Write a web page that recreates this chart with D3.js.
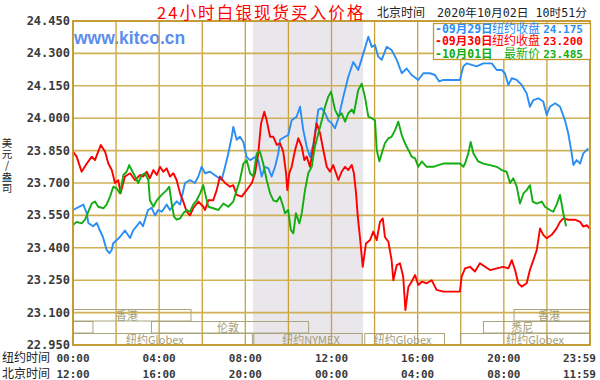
<!DOCTYPE html>
<html><head><meta charset="utf-8">
<script src="https://cdn.jsdelivr.net/npm/d3@7"></script>
<style>
html,body{margin:0;padding:0;background:#fff;}
svg{display:block;}
</style></head>
<body>
<svg id="chart" width="600" height="380"></svg>
<script>
// ---------------- data ----------------
const titleText = "24小时白银现货买入价格";
const stampLabel = "北京时间";
const stampText = "2020年10月02日 10时51分";
const yTitleText = "美元/盎司";
const yTicks = [22.95, 23.10, 23.25, 23.40, 23.55, 23.70, 23.85, 24.00, 24.15, 24.30, 24.45];
const nyTimeLabels = ["00:00","04:00","08:00","12:00","16:00","20:00","23:59"];
const bjTimeLabels = ["12:00","16:00","20:00","00:00","04:00","08:00","11:59"];
const timeHours = [0, 4, 8, 12, 16, 20, 24];
const nymexShade = [8.36, 13.46];

const legendDates = ["-09月29日", "-09月30日", "-10月01日"];
const legendNames = ["纽约收盘", "纽约收盘", "最新价"];
const legendValues = ["24.175", "23.200", "23.485"];

// [hour (NY time), price]
const sep29 = [[0,23.575],[0.48,23.60],[0.64,23.56],[0.71,23.515],[0.93,23.50],[1.10,23.515],[1.25,23.48],[1.39,23.45],[1.56,23.39],[1.69,23.375],[1.80,23.39],[1.86,23.42],[2.18,23.45],[2.41,23.48],[2.65,23.445],[2.79,23.48],[3.11,23.52],[3.25,23.50],[3.48,23.575],[3.65,23.585],[3.81,23.55],[3.95,23.575],[4.12,23.567],[4.35,23.60],[4.50,23.575],[4.81,23.615],[4.97,23.60],[5.20,23.70],[5.43,23.713],[5.66,23.70],[5.82,23.73],[5.97,23.775],[6.13,23.745],[6.36,23.752],[6.67,23.73],[6.90,23.714],[7.06,23.775],[7.21,23.837],[7.37,23.914],[7.44,23.96],[7.60,23.90],[7.75,23.914],[7.91,23.89],[8.06,23.82],[8.22,23.806],[8.45,23.82],[8.60,23.806],[8.76,23.73],[8.91,23.775],[9.07,23.768],[9.22,23.73],[9.38,23.775],[9.53,23.837],[9.61,23.90],[9.84,23.914],[9.99,23.922],[10.15,23.99],[10.38,24.007],[10.54,24.053],[10.69,23.945],[10.85,23.868],[11.00,23.82],[11.16,23.88],[11.39,24.04],[11.55,24.046],[11.70,24.023],[11.85,23.99],[12.01,23.976],[12.16,23.953],[12.32,24.0],[12.55,24.10],[12.78,24.192],[13.01,24.26],[13.24,24.223],[13.48,24.30],[13.71,24.377],[13.87,24.33],[14.02,24.339],[14.17,24.285],[14.33,24.27],[14.56,24.33],[14.79,24.316],[15.03,24.27],[15.26,24.208],[15.49,24.23],[15.72,24.20],[16.03,24.177],[16.26,24.208],[16.57,24.208],[16.80,24.20],[17.00,24.17],[17.19,24.177],[17.96,24.177],[18.12,24.24],[18.28,24.254],[18.74,24.24],[19.05,24.254],[19.44,24.254],[19.67,24.223],[19.90,24.223],[20.05,24.208],[20.21,24.154],[20.37,24.185],[20.60,24.177],[20.83,24.154],[21.06,24.115],[21.21,24.053],[21.37,24.084],[21.60,24.092],[21.83,24.077],[21.99,24.015],[22.14,24.053],[22.38,24.069],[22.61,24.053],[22.84,23.99],[22.99,23.93],[23.15,23.837],[23.23,23.783],[23.38,23.806],[23.54,23.79],[23.69,23.837],[23.92,23.86]];

const sep30 = [[0,23.845],[0.17,23.822],[0.40,23.752],[0.64,23.79],[0.87,23.822],[1.02,23.806],[1.17,23.845],[1.29,23.876],[1.49,23.845],[1.64,23.79],[1.80,23.76],[1.95,23.70],[2.10,23.713],[2.21,23.652],[2.41,23.73],[2.65,23.745],[2.88,23.713],[3.11,23.737],[3.26,23.73],[3.42,23.752],[3.57,23.722],[3.73,23.76],[3.89,23.737],[4.04,23.775],[4.19,23.752],[4.35,23.768],[4.50,23.73],[4.66,23.745],[4.81,23.714],[4.97,23.652],[5.12,23.614],[5.28,23.567],[5.43,23.55],[5.58,23.583],[5.82,23.614],[6.05,23.59],[6.13,23.575],[6.28,23.62],[6.51,23.62],[6.67,23.667],[6.82,23.73],[7.06,23.70],[7.29,23.683],[7.44,23.69],[7.60,23.645],[7.83,23.637],[8.06,23.667],[8.30,23.70],[8.45,23.745],[8.60,23.837],[8.73,23.976],[8.88,24.03],[8.99,23.99],[9.15,23.914],[9.30,23.914],[9.46,23.876],[9.61,23.884],[9.76,23.845],[9.89,23.745],[9.95,23.667],[10.04,23.745],[10.15,23.775],[10.31,23.853],[10.46,23.907],[10.62,23.868],[10.74,23.806],[10.85,23.822],[11.00,23.775],[11.16,23.868],[11.31,23.976],[11.47,23.93],[11.62,23.853],[11.78,23.775],[11.93,23.752],[12.08,23.783],[12.32,23.714],[12.47,23.752],[12.63,23.775],[12.78,23.76],[12.94,23.783],[13.04,23.745],[13.14,23.652],[13.22,23.544],[13.32,23.45],[13.45,23.312],[13.60,23.42],[13.79,23.436],[13.94,23.475],[14.10,23.436],[14.25,23.52],[14.38,23.536],[14.48,23.45],[14.64,23.428],[14.79,23.343],[14.87,23.25],[15.03,23.32],[15.18,23.328],[15.33,23.266],[15.43,23.112],[15.57,23.22],[15.72,23.243],[15.88,23.274],[16.03,23.228],[16.19,23.243],[16.42,23.236],[16.65,23.25],[16.88,23.205],[17.19,23.197],[17.96,23.197],[18.04,23.266],[18.20,23.305],[18.43,23.312],[18.66,23.29],[18.89,23.328],[19.13,23.312],[19.36,23.297],[19.67,23.305],[19.97,23.312],[20.21,23.305],[20.37,23.343],[20.52,23.297],[20.67,23.236],[20.83,23.22],[21.06,23.236],[21.21,23.297],[21.37,23.343],[21.53,23.39],[21.68,23.49],[21.83,23.46],[21.99,23.444],[22.22,23.46],[22.45,23.49],[22.61,23.52],[22.76,23.536],[22.99,23.53],[23.30,23.53],[23.54,23.52],[23.69,23.498],[23.85,23.505],[23.97,23.49]];

const oct01 = [[0,23.505],[0.17,23.52],[0.40,23.513],[0.56,23.53],[0.71,23.567],[0.87,23.605],[1.02,23.614],[1.17,23.59],[1.41,23.583],[1.56,23.60],[1.72,23.637],[1.87,23.683],[2.03,23.675],[2.18,23.652],[2.34,23.737],[2.49,23.752],[2.61,23.783],[2.72,23.76],[2.88,23.73],[3.03,23.70],[3.19,23.737],[3.34,23.745],[3.50,23.714],[3.57,23.62],[3.73,23.59],[3.89,23.62],[4.04,23.637],[4.19,23.652],[4.35,23.667],[4.47,23.683],[4.58,23.605],[4.69,23.544],[4.81,23.53],[4.97,23.536],[5.12,23.56],[5.28,23.575],[5.43,23.567],[5.58,23.60],[5.74,23.62],[5.90,23.652],[6.05,23.69],[6.13,23.652],[6.28,23.59],[6.51,23.583],[6.75,23.575],[6.98,23.605],[7.21,23.59],[7.44,23.614],[7.60,23.667],[7.75,23.714],[7.91,23.79],[8.06,23.806],[8.22,23.745],[8.37,23.73],[8.53,23.837],[8.68,23.845],[8.83,23.79],[8.99,23.714],[9.15,23.652],[9.30,23.62],[9.46,23.614],[9.61,23.637],[9.76,23.59],[9.84,23.56],[9.99,23.575],[10.11,23.483],[10.23,23.467],[10.35,23.56],[10.51,23.513],[10.62,23.56],[10.77,23.667],[10.92,23.745],[11.08,23.775],[11.23,23.868],[11.39,23.93],[11.55,23.99],[11.70,24.053],[11.85,24.10],[11.98,24.123],[12.16,24.04],[12.32,24.007],[12.47,24.023],[12.63,23.984],[12.78,24.023],[12.94,24.04],[13.04,24.023],[13.24,24.13],[13.40,24.16],[13.55,24.10],[13.71,24.007],[13.87,24.0],[14.02,23.99],[14.10,23.853],[14.22,23.80],[14.33,23.837],[14.48,23.884],[14.64,23.907],[14.79,23.914],[14.95,23.945],[15.10,23.984],[15.26,23.922],[15.41,23.884],[15.57,23.853],[15.72,23.822],[15.88,23.814],[16.03,23.775],[16.19,23.80],[16.42,23.775],[16.73,23.775],[16.96,23.783],[17.19,23.79],[17.96,23.79],[18.12,23.775],[18.20,23.79],[18.35,23.837],[18.46,23.89],[18.59,23.837],[18.81,23.80],[19.05,23.79],[19.36,23.783],[19.67,23.775],[19.90,23.76],[20.13,23.752],[20.29,23.70],[20.44,23.722],[20.60,23.683],[20.75,23.605],[20.91,23.652],[21.06,23.667],[21.21,23.69],[21.34,23.614],[21.53,23.605],[21.76,23.614],[21.91,23.59],[22.14,23.575],[22.30,23.567],[22.45,23.60],[22.61,23.645],[22.76,23.56],[22.89,23.50]];

// market sessions
const sessionRows = [0, 0, 1, 1, 1, 2, 2, 2, 2];
const sessionStart = [0, 20.45, 0, 3.62, 19.03, 0, 8.37, 13.52, 17.96];
const sessionEnd = [5.5, 24, 0.95, 10.96, 24, 8.35, 13.45, 17.27, 24];
const sessionLabels = ["香港", "香港", "", "伦敦", "悉尼", "纽约Globex", "纽约NYMEX", "纽约Globex", "纽约Globex"];
const sessionLabelAt = [2.5, 22.1, 0, 7.2, 20.85, 3.8, 11.05, 15.3, 21.45];

// ---------------- drawing ----------------
const svg = d3.select("#chart");
const L = 73, R = 590, T = 21, B = 345;
const x = d3.scaleLinear().domain([0, 24]).range([L, R]);
const y = d3.scaleLinear().domain([22.95, 24.45]).range([B, T]);
const gridColor = "#c8a238";
const cjk = "'Noto Sans CJK SC', sans-serif";
const mono = "'DejaVu Sans Mono', 'Liberation Mono', monospace";
const seriesColors = ["#2b8ef5", "#ff0000", "#12ad12"];

// background + NYMEX shade
svg.append("rect").attr("x", L).attr("y", T).attr("width", R - L).attr("height", B - T).attr("fill", "#fff");
svg.append("rect").attr("x", x(nymexShade[0])).attr("y", T)
  .attr("width", x(nymexShade[1]) - x(nymexShade[0])).attr("height", B - T).attr("fill", "#e9e6ec");

// watermark
svg.append("text").attr("x", 74).attr("y", 44).text("www.kitco.cn")
  .attr("font-family", "'Liberation Sans', Arial, sans-serif").attr("font-weight", "bold")
  .attr("font-size", 17.5).attr("fill", "#5b8def");

// grid
const vTicks = d3.range(0, 25, 2);
svg.append("g").selectAll("line").data(vTicks).join("line")
  .attr("x1", d => x(d)).attr("x2", d => x(d)).attr("y1", T).attr("y2", B)
  .attr("stroke", gridColor).attr("stroke-width", 1.3);
svg.append("g").selectAll("line").data(yTicks).join("line")
  .attr("x1", L).attr("x2", R).attr("y1", d => y(d)).attr("y2", d => y(d))
  .attr("stroke", "#cfb056").attr("stroke-width", 1.6);

// sessions
const rowTop = [309.5, 321.5, 333.5], rowH = 11.5;
const sess = svg.append("g");
sessionRows.forEach((r, i) => {
  const x0 = x(sessionStart[i]) + 0.5, x1 = x(sessionEnd[i]) - 0.5;
  sess.append("rect").attr("x", x0).attr("y", rowTop[r]).attr("width", x1 - x0).attr("height", rowH)
    .attr("fill", "none").attr("stroke", "#aaa47c").attr("stroke-width", 1);
  if (sessionLabels[i]) {
    sess.append("text").attr("x", x(sessionLabelAt[i])).attr("y", rowTop[r] + 10)
      .attr("text-anchor", "middle").attr("font-family", cjk).attr("font-size", 11)
      .attr("fill", "#a39d78").text(sessionLabels[i]);
  }
});

// lines
const line = d3.line().x(d => x(d[0])).y(d => y(d[1]));
const seriesData = [sep29, sep30, oct01];
svg.append("g").selectAll("path").data(seriesData).join("path")
  .attr("d", line).attr("fill", "none")
  .attr("stroke", (d, i) => seriesColors[i]).attr("stroke-width", 1.9).attr("stroke-linejoin", "round");

// frame
svg.append("rect").attr("x", L).attr("y", T).attr("width", R - L).attr("height", B - T)
  .attr("fill", "none").attr("stroke", "#c39a30").attr("stroke-width", 1.8);

// y labels
svg.append("g").selectAll("text").data(yTicks).join("text")
  .attr("x", 70).attr("y", d => y(d) + 4).attr("text-anchor", "end")
  .attr("font-family", mono).attr("font-weight", "bold").attr("font-size", 12)
  .attr("fill", "#3a3a3a").text(d => d.toFixed(3));

// axis title, vertical writing
svg.append("text").attr("x", 7).attr("y", 138)
  .attr("font-family", cjk).attr("font-size", 10.5).attr("fill", "#222")
  .attr("letter-spacing", 0.6)
  .style("writing-mode", "vertical-rl").style("text-orientation", "upright")
  .text(yTitleText);

// time labels
const tz = svg.append("text").attr("font-family", cjk).attr("font-size", 12).attr("fill", "#222");
tz.append("tspan").attr("x", 2).attr("y", 362).text("纽约时间");
tz.append("tspan").attr("x", 2).attr("y", 378).text("北京时间");
const tl = svg.append("g").attr("font-family", mono).attr("font-weight", "bold").attr("font-size", 11).attr("fill", "#3a3a3a");
timeHours.forEach((h, i) => {
  const last = i === timeHours.length - 1;
  const xx = last ? 596 : x(h);
  const anchor = last ? "end" : "middle";
  const t = tl.append("text").attr("text-anchor", anchor);
  t.append("tspan").attr("x", xx).attr("y", 362).text(nyTimeLabels[i]);
  t.append("tspan").attr("x", xx).attr("y", 378).text(bjTimeLabels[i]);
});

// title & timestamp
svg.append("text").attr("x", 157).attr("y", 19.3).attr("font-family", cjk).attr("font-size", 16.5)
  .attr("letter-spacing", 2.1).attr("fill", "#ff0000").text(titleText);
svg.append("text").attr("x", 377).attr("y", 17).attr("font-family", cjk).attr("font-size", 12)
  .attr("fill", "#222").text(stampLabel);
svg.append("text").attr("x", 587).attr("y", 17).attr("text-anchor", "end").attr("font-family", mono + ", " + cjk)
  .attr("font-size", 11.7).attr("fill", "#222").text(stampText);

// legend
const lg = svg.append("g");
lg.append("rect").attr("x", 433.5).attr("y", 23.5).attr("width", 157).attr("height", 36)
  .attr("fill", "#fff").attr("stroke", "#c39a30").attr("stroke-width", 1.3);
const ld = lg.append("text").attr("font-family", mono + ", " + cjk).attr("font-weight", "bold").attr("font-size", 11.5);
const ln = lg.append("text").attr("font-family", cjk).attr("font-size", 12).attr("text-anchor", "end");
const lv = lg.append("text").attr("font-family", mono).attr("font-weight", "bold").attr("font-size", 11).attr("text-anchor", "end");
legendDates.forEach((d, i) => {
  const yy = 33 + i * 12.3;
  ld.append("tspan").attr("x", 435).attr("y", yy).attr("fill", seriesColors[i]).text(d);
  ln.append("tspan").attr("x", 540).attr("y", yy).attr("fill", seriesColors[i]).text(legendNames[i]);
  lv.append("tspan").attr("x", 583).attr("y", yy).attr("fill", seriesColors[i]).text(legendValues[i]);
});
</script>
</body></html>
